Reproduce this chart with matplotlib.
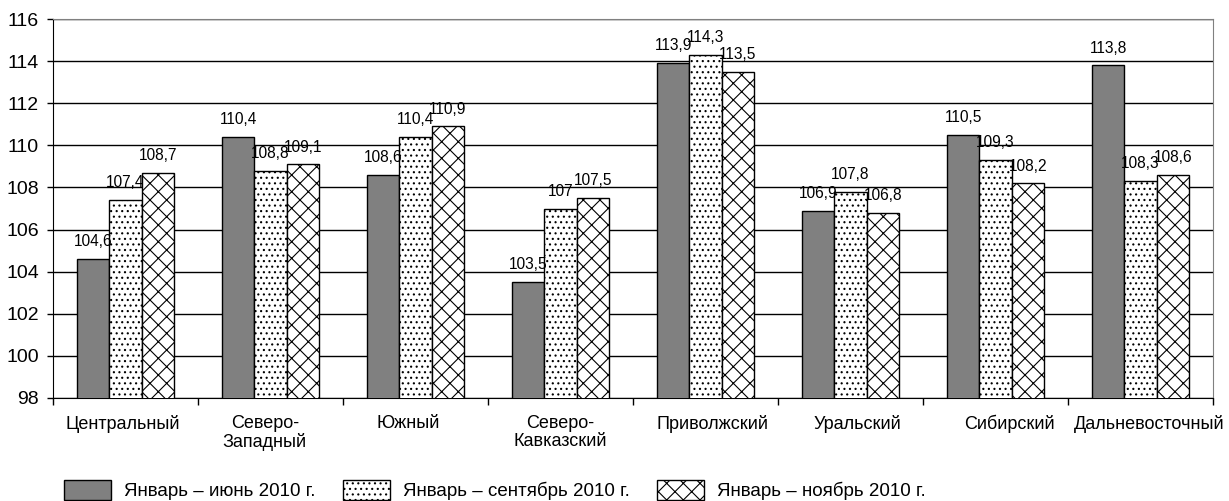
import matplotlib
matplotlib.use("Agg")
import matplotlib.pyplot as plt
import numpy as np

categories = ["Центральный", "Северо-\nЗападный", "Южный", "Северо-\nКавказский",
              "Приволжский", "Уральский", "Сибирский", "Дальневосточный"]
series_names = ["Январь – июнь 2010 г.", "Январь – сентябрь 2010 г.", "Январь – ноябрь 2010 г."]
jan_jun = [104.6, 110.4, 108.6, 103.5, 113.9, 106.9, 110.5, 113.8]
jan_sep = [107.4, 108.8, 110.4, 107.0, 114.3, 107.8, 109.3, 108.3]
jan_nov = [108.7, 109.1, 110.9, 107.5, 113.5, 106.8, 108.2, 108.6]
yticks = [98, 100, 102, 104, 106, 108, 110, 112, 114, 116]

plt.rcParams['font.family'] = ['Liberation Sans', 'DejaVu Sans']
plt.rcParams['hatch.linewidth'] = 0.8

fig = plt.figure(figsize=(12.29, 5.01), dpi=100)
ax = fig.add_axes([53/1229, 1-398/501, (1213-53)/1229, (398-19)/501])

x = np.arange(len(categories))
w = 0.222
styles = [dict(color="#808080", hatch=None),
          dict(color="white", hatch="..."),
          dict(color="white", hatch="xx")]
data = [jan_jun, jan_sep, jan_nov]
handles = []
for k, (vals, st) in enumerate(zip(data, styles)):
    bars = ax.bar(x + (k-1)*w, vals, width=w, color=st["color"], hatch=st["hatch"],
                  edgecolor="black", linewidth=1.0, zorder=3, label=series_names[k])
    handles.append(bars)
    for xi, v in zip(x + (k-1)*w, vals):
        ax.annotate(f"{v:g}".replace(".", ","), (xi, v), xytext=(0, 7),
                    textcoords="offset points", ha="center", va="bottom",
                    fontsize=11.2, zorder=5)

ax.set_ylim(98, 116)
ax.set_xlim(-0.5, len(categories)-0.5)
ax.set_yticks(yticks)
ax.set_yticklabels([str(t) for t in yticks], fontsize=14)
ax.yaxis.grid(True, color="black", linewidth=1.0, zorder=0)
ax.set_axisbelow(True)
ax.tick_params(axis='y', direction='out', length=4, width=1, pad=6)

ax.set_xticks(np.arange(len(categories)+1) - 0.5)
ax.set_xticklabels([])
ax.tick_params(axis='x', direction='out', length=5, width=1)

# small horizontal offsets of category labels (layout only)
label_shift = [-0.02, -0.04, -0.05, 0.0, 0.045, 0.05, 0.093, 0.06]
for i, (c, s) in enumerate(zip(categories, label_shift)):
    ax.text(i + s, -0.045, c, transform=ax.get_xaxis_transform(), ha="center",
            va="top", fontsize=13, linespacing=1.05)

for side in ["top", "right"]:
    ax.spines[side].set_color("#808080")
ax.spines["left"].set_color("black")
ax.spines["bottom"].set_color("black")

fig.legend(handles=handles, loc="lower left", bbox_to_anchor=(63/1229, 0.0),
           ncol=3, frameon=False, fontsize=13.5, handlelength=2.5, handleheight=1.23,
           handletextpad=0.7, columnspacing=1.45, borderpad=0.05, borderaxespad=0.0)

fig.savefig("out.png", dpi=100)
